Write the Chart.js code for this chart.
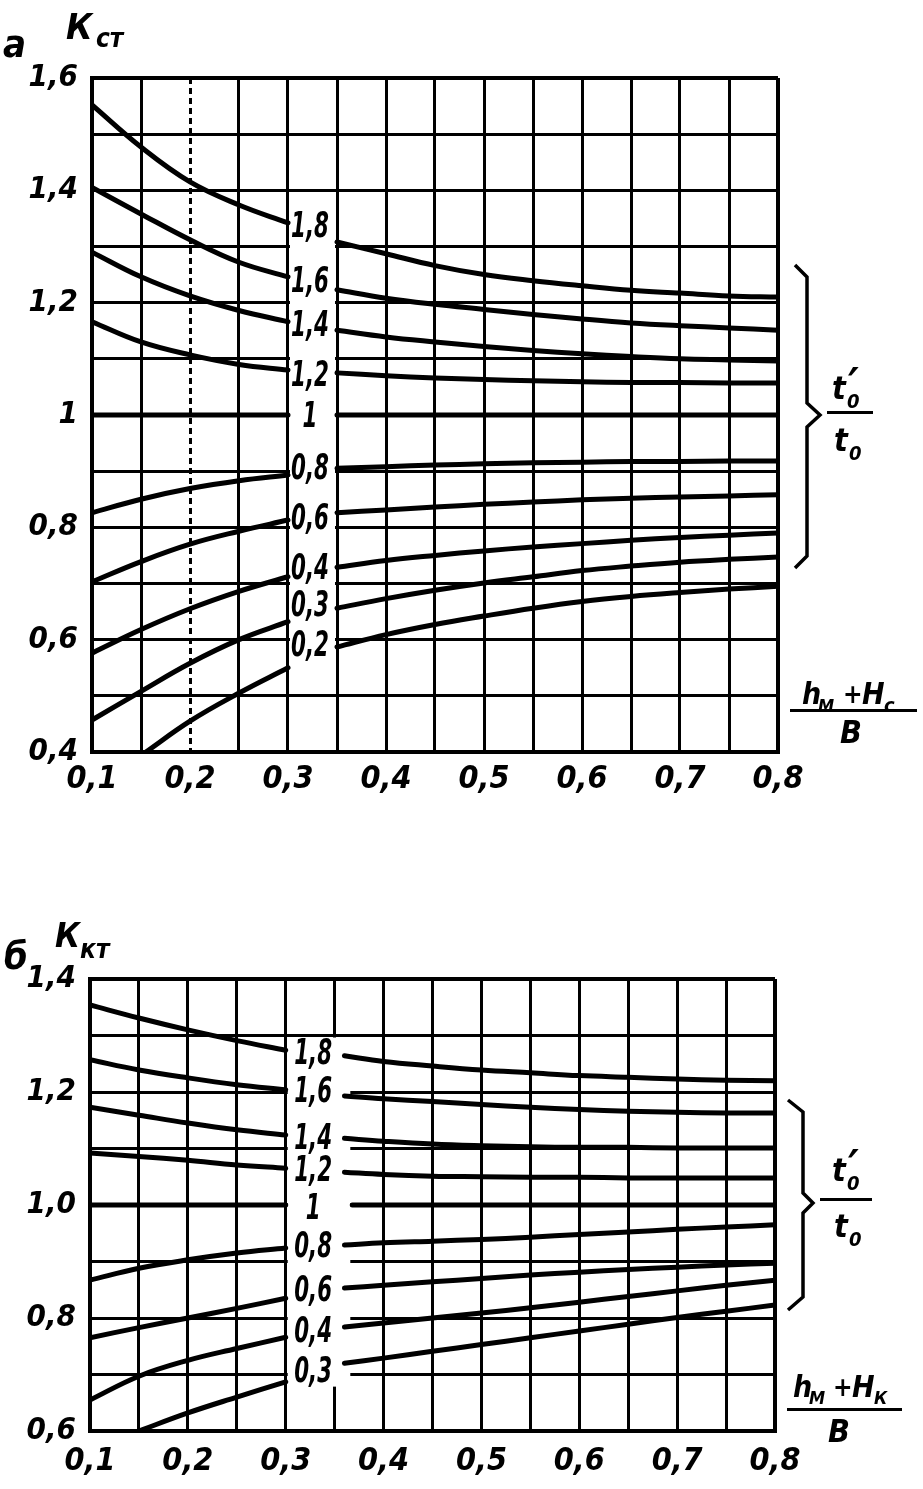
<!DOCTYPE html>
<html><head><meta charset="utf-8">
<script src="https://cdn.jsdelivr.net/npm/chart.js@4/dist/chart.umd.min.js"></script>
<style>
html,body{margin:0;padding:0;background:#fff;}
body{width:923px;height:1489px;position:relative;overflow:hidden;}
canvas{position:absolute;left:0;}
.t{position:absolute;font-family:'Liberation Sans Narrow','DejaVu Sans Condensed','DejaVu Sans',sans-serif;font-style:italic;font-weight:bold;color:#000;line-height:1;white-space:nowrap;}
.ln{position:absolute;background:#000;}
svg{position:absolute;left:0;top:0;}
</style></head><body>
<canvas id="ca" width="923" height="830" style="top:0"></canvas>
<canvas id="cb" width="923" height="589" style="top:900px"></canvas>
<svg width="923" height="1489">
<path d="M795,265 L807,277 L807,403 L820,415 L807,427 L807,556 L795,568" fill="none" stroke="#000" stroke-width="3.5"/>
<path d="M788,1100 L803,1112 L803,1193 L813,1203 L803,1213 L803,1297 L788,1310" fill="none" stroke="#000" stroke-width="3.5"/>
</svg>
<div id="notes"></div>
<script>
// ---------- Chart a data ----------
const xLeftA   = [0.1, 0.15, 0.2, 0.25, 0.3];
const xLeftA02 = [0.155, 0.2, 0.25, 0.3];
const xRightA  = [0.35, 0.4, 0.45, 0.5, 0.55, 0.6, 0.65, 0.7, 0.75, 0.8];
const curveNamesA = ['1,8','1,6','1,4','1,2','1','0,8','0,6','0,4','0,3','0,2'];
const a18L = [1.552, 1.477, 1.415, 1.374, 1.342];
const a18R = [1.308, 1.287, 1.266, 1.250, 1.239, 1.230, 1.222, 1.217, 1.212, 1.210];
const a16L = [1.405, 1.358, 1.312, 1.272, 1.246];
const a16R = [1.223, 1.208, 1.197, 1.188, 1.179, 1.171, 1.164, 1.159, 1.155, 1.151];
const a14L = [1.290, 1.246, 1.212, 1.186, 1.166];
const a14R = [1.151, 1.139, 1.130, 1.122, 1.115, 1.109, 1.104, 1.100, 1.098, 1.096];
const a12L = [1.166, 1.130, 1.107, 1.090, 1.080];
const a12R = [1.075, 1.070, 1.066, 1.063, 1.061, 1.059, 1.058, 1.058, 1.057, 1.057];
const a10L = [1, 1, 1, 1, 1];
const a10R = [1, 1, 1, 1, 1, 1, 1, 1, 1, 1];
const a08L = [0.826, 0.850, 0.869, 0.883, 0.893];
const a08R = [0.905, 0.908, 0.911, 0.913, 0.915, 0.916, 0.917, 0.917, 0.918, 0.918];
const a06L = [0.703, 0.739, 0.770, 0.793, 0.813];
const a06R = [0.826, 0.831, 0.836, 0.841, 0.845, 0.849, 0.852, 0.854, 0.856, 0.858];
const a04L = [0.576, 0.618, 0.655, 0.686, 0.712];
const a04R = [0.729, 0.741, 0.750, 0.758, 0.765, 0.771, 0.777, 0.782, 0.786, 0.790];
const a03L = [0.457, 0.508, 0.558, 0.600, 0.632];
const a03R = [0.656, 0.673, 0.688, 0.701, 0.712, 0.723, 0.731, 0.738, 0.743, 0.747];
const a02L = [0.400, 0.455, 0.505, 0.550];
const a02R = [0.587, 0.609, 0.627, 0.642, 0.656, 0.668, 0.677, 0.684, 0.690, 0.695];
const labelXA = 0.3225;
const labelYA = [1.333, 1.235, 1.157, 1.068, 0.995, 0.902, 0.813, 0.724, 0.658, 0.587];
const yTickLabelsA = ['0,4','0,6','0,8','1','1,2','1,4','1,6'];

// ---------- Chart b data ----------
const xLeftB  = [0.1, 0.15, 0.2, 0.25, 0.3];
const xRightB = [0.36, 0.4, 0.45, 0.5, 0.55, 0.6, 0.65, 0.7, 0.75, 0.8];
const xRightB10 = [0.368, 0.4, 0.45, 0.5, 0.55, 0.6, 0.65, 0.7, 0.75, 0.8];
const curveNamesB = ['1,8','1,6','1,4','1,2','1','0,8','0,6','0,4','0,3'];
const b18L = [1.354, 1.331, 1.310, 1.291, 1.274];
const b18R = [1.264, 1.254, 1.246, 1.239, 1.234, 1.229, 1.226, 1.223, 1.221, 1.220];
const b16L = [1.257, 1.239, 1.225, 1.213, 1.204];
const b16R = [1.193, 1.188, 1.183, 1.178, 1.173, 1.169, 1.166, 1.164, 1.163, 1.163];
const b14L = [1.173, 1.159, 1.145, 1.133, 1.124];
const b14R = [1.118, 1.113, 1.108, 1.105, 1.103, 1.102, 1.102, 1.101, 1.101, 1.101];
const b12L = [1.092, 1.086, 1.079, 1.071, 1.065];
const b12R = [1.058, 1.054, 1.051, 1.050, 1.049, 1.049, 1.048, 1.048, 1.048, 1.048];
const b10L = [1, 1, 1, 1, 1];
const b10R = [1, 1, 1, 1, 1, 1, 1, 1, 1, 1];
const b08L = [0.867, 0.888, 0.903, 0.915, 0.924];
const b08R = [0.929, 0.933, 0.936, 0.939, 0.943, 0.948, 0.952, 0.957, 0.961, 0.965];
const b06L = [0.765, 0.783, 0.800, 0.817, 0.835];
const b06R = [0.853, 0.858, 0.864, 0.870, 0.876, 0.881, 0.886, 0.890, 0.894, 0.897];
const b04L = [0.655, 0.697, 0.725, 0.746, 0.766];
const b04R = [0.784, 0.791, 0.800, 0.809, 0.818, 0.828, 0.838, 0.848, 0.858, 0.867];
const b03L = [null, 0.600, 0.632, 0.660, 0.687];
const b03R = [0.720, 0.729, 0.741, 0.753, 0.765, 0.777, 0.789, 0.801, 0.812, 0.823];
const labelXB = 0.328;
const labelYB = [1.265, 1.198, 1.115, 1.058, 0.991, 0.924, 0.846, 0.773, 0.703];
const yTickLabelsB = ['0,6','0,8','1,0','1,2','1,4'];

const xTickLabels = ['0,1','0,2','0,3','0,4','0,5','0,6','0,7','0,8'];

// ---------- helpers ----------
const FONT = "'Liberation Sans Narrow','DejaVu Sans Condensed','DejaVu Sans',sans-serif";
function pts(xs, ys){ return xs.map((x,i)=>({x:x, y:ys[i]})); }
function curve(xl, yl, xr, yr, gap){ return pts(xl,yl).concat([{x:gap, y:null}], pts(xr,yr)); }
function ds(data){
  return {data:data, borderColor:'#000', borderWidth:5, pointRadius:0, fill:false,
          tension:0.4, spanGaps:false, borderCapStyle:'round'};
}

const annot = {
  id:'annot',
  beforeDatasetsDraw(chart, args, o){
    const {ctx, scales:{x, y}} = chart;
    const m = o.mask;
    const L = x.getPixelForValue(m.x0) + 2;
    const R = x.getPixelForValue(m.x1) + m.dx;
    const T = y.getPixelForValue(m.y0) + 2;
    const B = y.getPixelForValue(m.y1) - 2;
    ctx.save(); ctx.fillStyle = '#fff'; ctx.fillRect(L, T, R-L, B-T); ctx.restore();
  },
  afterDatasetsDraw(chart, args, o){
    const {ctx, scales:{x, y}} = chart;
    ctx.save();
    ctx.fillStyle = '#000';
    ctx.font = 'italic bold 35px ' + FONT;
    ctx.textAlign = 'center'; ctx.textBaseline = 'middle';
    o.labels.forEach((t,i)=>{
      ctx.save();
      ctx.translate(x.getPixelForValue(o.labelX), y.getPixelForValue(o.labelY[i]));
      ctx.scale(0.68, 1);
      ctx.fillText(t, 0, 0);
      ctx.restore();
    });
    ctx.restore();
  }
};

function makeChart(id, cfg){
  const yMax = cfg.yMax, yMin = cfg.yMin;
  return new Chart(document.getElementById(id), {
    type:'line',
    data:{datasets: cfg.datasets},
    plugins:[annot],
    options:{
      responsive:false, animation:false, events:[],
      layout:{padding: cfg.padding},
      plugins:{legend:{display:false}, tooltip:{enabled:false}, annot: cfg.annot},
      scales:{
        x:{type:'linear', min:0.1, max:0.8,
           afterFit(s){ s.height = 50; },
           ticks:{stepSize:0.05, autoSkip:false, maxRotation:0, padding: cfg.xPad, color:'#000',
                  font:{family:FONT, size:32, style:'italic', weight:'bold'},
                  callback(v){ const k = Math.round(v*100); return k % 10 === 0 ? xTickLabels[k/10-1] : ''; }},
           grid:{color:'#000', drawTicks:false,
                 lineWidth(c){ return c.tick && Math.abs(c.tick.value-0.8) < 1e-6 ? 4 : 3; }},
           border:{display:true, color:'#000', width:4,
                   dash(c){ return (cfg.dashX && c.tick && Math.abs(c.tick.value-0.2) < 1e-6) ? [6,4] : []; }}},
        y:{type:'linear', min:yMin, max:yMax,
           afterFit(s){ s.width = cfg.yW; },
           ticks:{stepSize:0.1, autoSkip:false, padding:14, color:'#000',
                  font:{family:FONT, size:31, style:'italic', weight:'bold'},
                  callback(v){ const k = Math.round(v*10); const lo = Math.round(yMin*10);
                               return (k-lo) % 2 === 0 ? cfg.yLabels[(k-lo)/2] : ''; }},
           grid:{color:'#000', drawTicks:false,
                 lineWidth(c){ return c.tick && Math.abs(c.tick.value-yMax) < 1e-6 ? 4 : 3; }},
           border:{display:true, color:'#000', width:4}}
      }
    }
  });
}

makeChart('ca', {
  yMin:0.4, yMax:1.6, yW:92, xPad:8, dashX:true, yLabels:yTickLabelsA,
  padding:{left:0, top:78, right:145, bottom:28},
  annot:{mask:{x0:0.3, x1:0.35, dx:-2, y0:1.4, y1:0.5}, labelX:labelXA, labelY:labelYA, labels:curveNamesA},
  datasets:[
    ds(curve(xLeftA, a18L, xRightA, a18R, 0.325)),
    ds(curve(xLeftA, a16L, xRightA, a16R, 0.325)),
    ds(curve(xLeftA, a14L, xRightA, a14R, 0.325)),
    ds(curve(xLeftA, a12L, xRightA, a12R, 0.325)),
    ds(curve(xLeftA, a10L, xRightA, a10R, 0.325)),
    ds(curve(xLeftA, a08L, xRightA, a08R, 0.325)),
    ds(curve(xLeftA, a06L, xRightA, a06R, 0.325)),
    ds(curve(xLeftA, a04L, xRightA, a04R, 0.325)),
    ds(curve(xLeftA, a03L, xRightA, a03R, 0.325)),
    ds(curve(xLeftA02, a02L, xRightA, a02R, 0.325))
  ]
});

makeChart('cb', {
  yMin:0.6, yMax:1.4, yW:90, xPad:11, dashX:false, yLabels:yTickLabelsB,
  padding:{left:0, top:79, right:148, bottom:8},
  annot:{mask:{x0:0.3, x1:0.366, dx:0, y0:1.3, y1:0.675}, labelX:labelXB, labelY:labelYB, labels:curveNamesB},
  datasets:[
    ds(curve(xLeftB, b18L, xRightB, b18R, 0.33)),
    ds(curve(xLeftB, b16L, xRightB, b16R, 0.33)),
    ds(curve(xLeftB, b14L, xRightB, b14R, 0.33)),
    ds(curve(xLeftB, b12L, xRightB, b12R, 0.33)),
    ds(curve(xLeftB, b10L, xRightB10, b10R, 0.33)),
    ds(curve(xLeftB, b08L, xRightB, b08R, 0.33)),
    ds(curve(xLeftB, b06L, xRightB, b06R, 0.33)),
    ds(curve(xLeftB, b04L, xRightB, b04R, 0.33)),
    ds(curve(xLeftB, b03L, xRightB, b03R, 0.33))
  ]
});

// ---------- text annotations (real text) ----------
const notes = document.getElementById('notes');
function txt(left, baseline, size, html){
  const d = document.createElement('div');
  d.className = 't';
  d.style.left = left + 'px';
  d.style.top = (baseline - 0.86*size) + 'px';
  d.style.fontSize = size + 'px';
  d.innerHTML = html;
  notes.appendChild(d);
}
function rule(left, top, w){
  const d = document.createElement('div');
  d.className = 'ln';
  d.style.left = left+'px'; d.style.top = top+'px'; d.style.width = w+'px'; d.style.height = '3px';
  notes.appendChild(d);
}
// chart a
txt(3, 58, 38, 'а');
txt(66, 40, 36, 'К');
txt(96, 47, 26, 'ст');
txt(832, 400, 32, 't');
txt(847, 408, 20, '0');
txt(848, 402, 46, '′');
rule(827, 411, 46);
txt(834, 452, 32, 't');
txt(849, 460, 20, '0');
txt(802, 705, 30, 'h');
txt(818, 712, 18, 'М');
txt(843, 703, 26, '+');
txt(862, 705, 30, 'H');
txt(884, 712, 20, 'с');
rule(790, 709, 127);
txt(840, 744, 32, 'B');
// chart b
txt(4, 970, 38, 'б');
txt(55, 947, 34, 'К');
txt(80, 958, 26, 'кт');
txt(832, 1182, 32, 't');
txt(847, 1190, 20, '0');
txt(848, 1184, 46, '′');
rule(820, 1198, 52);
txt(834, 1238, 32, 't');
txt(849, 1246, 20, '0');
txt(793, 1398, 30, 'h');
txt(809, 1404, 18, 'М');
txt(833, 1396, 26, '+');
txt(852, 1398, 30, 'H');
txt(874, 1404, 18, 'К');
rule(787, 1408, 115);
txt(828, 1443, 32, 'B');
</script>
</body></html>
